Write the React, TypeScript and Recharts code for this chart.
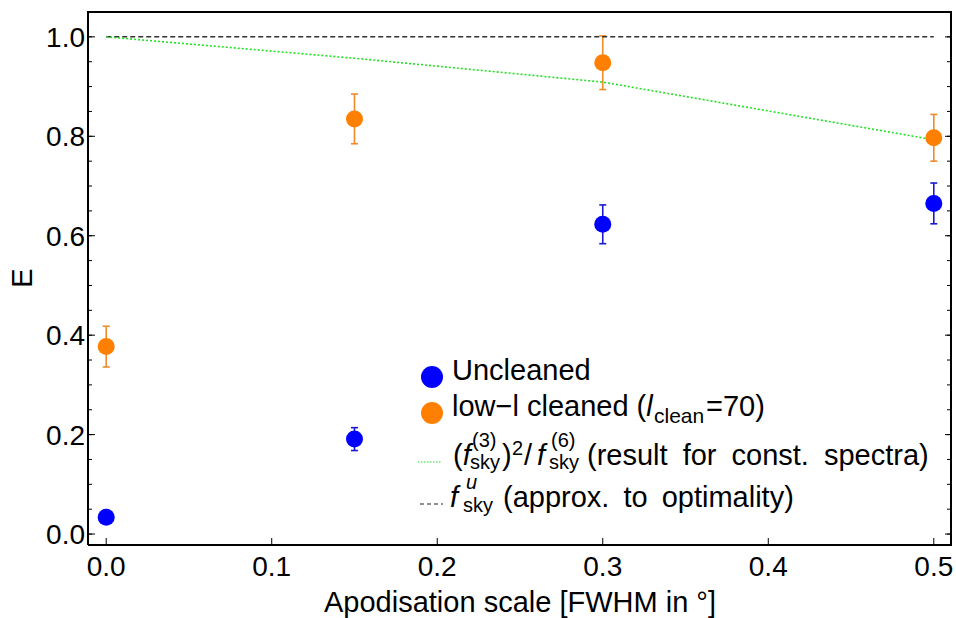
import React from 'react';
import { ComposedChart, ErrorBar, Line, Scatter, XAxis, YAxis } from 'recharts';

// apodisation scale (FWHM in degrees) at which E was measured
const apodisation = [0, 0.15, 0.3, 0.5];

// uncleaned maps
const uncleanedE = [0.034, 0.191, 0.623, 0.665];
const uncleanedErr = [0, 0.023, 0.039, 0.041];

// low-l cleaned maps (l_clean = 70)
const cleanedE = [0.377, 0.835, 0.948, 0.797];
const cleanedErr = [0.041, 0.05, 0.054, 0.047];

// (f3)^2 / f6 prediction for constant spectra
const constSpectraE = [1.0, 0.957, 0.909, 0.793];

// f_sky^u approximation
const optimalityX = [0, 0.5];
const optimalityE = [1.0, 1.0];

const xMajor = [0, 0.1, 0.2, 0.3, 0.4, 0.5];
const xMinor = [0, 0.02, 0.04, 0.06, 0.08, 0.1, 0.12, 0.14, 0.16, 0.18, 0.2, 0.22, 0.24, 0.26, 0.28, 0.3, 0.32, 0.34, 0.36, 0.38, 0.4, 0.42, 0.44, 0.46, 0.48, 0.5];
const yMajor = [0, 0.2, 0.4, 0.6, 0.8, 1.0];
const yMinor = [0, 0.05, 0.1, 0.15, 0.2, 0.25, 0.3, 0.35, 0.4, 0.45, 0.5, 0.55, 0.6, 0.65, 0.7, 0.75, 0.8, 0.85, 0.9, 0.95, 1.0, 1.05];

const X_DOMAIN: [number, number] = [-0.011, 0.511];
const Y_DOMAIN: [number, number] = [-0.022, 1.052];

const FONT = '"Liberation Sans", Arial, sans-serif';
const BLUE = '#0000ff';
const ORANGE = '#ff8000';
const GREEN = '#22e022';

const uncleaned = apodisation.map((x, i) => ({ x, e: uncleanedE[i], err: uncleanedErr[i] }));
const cleaned = apodisation.map((x, i) => ({ x, e: cleanedE[i], err: cleanedErr[i] }));
const constSpectra = apodisation.map((x, i) => ({ x, e: constSpectraE[i] }));
const optimality = optimalityX.map((x, i) => ({ x, e: optimalityE[i] }));

const XTick = (p: any) => (
  <g>
    <line x1={p.x} y1={p.y} x2={p.x} y2={p.y - 7} stroke="#000" strokeWidth={1} />
    <text x={p.x} y={p.y + 31} textAnchor="middle" fontSize={28} fontFamily={FONT} fill="#000">
      {p.payload.value.toFixed(1)}
    </text>
  </g>
);

const YTick = (p: any) => (
  <g>
    <line x1={p.x} y1={p.y} x2={p.x + 7} y2={p.y} stroke="#000" strokeWidth={1} />
    <text x={p.x - 3} y={p.y + 10} textAnchor="end" fontSize={28} fontFamily={FONT} fill="#000">
      {p.payload.value.toFixed(1)}
    </text>
  </g>
);

// frame sides only carry tick marks, no labels
const NoLabel = () => <g />;

const dot = (color: string) => (p: any) => <circle cx={p.cx} cy={p.cy} r={8.5} fill={color} />;

const T = ({ x, y, size = 29, ws = 0, children }: { x: number; y: number; size?: number; ws?: number; children: React.ReactNode }) => (
  <text x={x} y={y} fontSize={size} wordSpacing={ws} fill="#000" fontFamily={FONT}>
    {children}
  </text>
);

const It = ({ children }: { children: React.ReactNode }) => <tspan fontStyle="italic">{children}</tspan>;

function ChartLegend() {
  return (
    <svg width={956} height={618} style={{ position: 'absolute', left: 0, top: 0 }}>
      <circle cx={432} cy={377} r={11} fill={BLUE} />
      <circle cx={432} cy={413} r={11} fill={ORANGE} />
      <line x1={418} y1={462} x2={442} y2={462} stroke={GREEN} strokeWidth={1.2} strokeDasharray="1.5 1.5" />
      <line x1={420} y1={504} x2={443} y2={504} stroke="#222" strokeWidth={1.2} strokeDasharray="4 3" />

      <T x={452} y={380}>Uncleaned</T>

      <T x={452} y={416}>
        low−l cleaned (<It>l</It>
      </T>
      <T x={654} y={423} size={21}>clean</T>
      <T x={706} y={416}>=70)</T>

      <T x={453} y={465}>
        (<It>f</It>
      </T>
      <T x={472} y={447} size={20}>(3)</T>
      <T x={470} y={469} size={20}>sky</T>
      <T x={502} y={465}>)</T>
      <T x={512} y={455} size={20}>2</T>
      <T x={524} y={465}>/</T>
      <T x={537} y={465}>
        <It>f</It>
      </T>
      <T x={551} y={447} size={20}>(6)</T>
      <T x={549} y={469} size={20}>sky</T>
      <T x={587} y={465} ws={7}>(result for const. spectra)</T>

      <T x={450} y={507}>
        <It>f</It>
      </T>
      <T x={466} y={489} size={20}>
        <It>u</It>
      </T>
      <T x={463} y={512} size={20}>sky</T>
      <T x={503} y={507} ws={6}>(approx. to optimality)</T>
    </svg>
  );
}

export default function App() {
  return (
    <div style={{ position: 'absolute', left: 0, top: 0, width: 956, height: 618, background: '#fff' }}>
      <ComposedChart width={956} height={618} margin={{ top: 11, right: 4, bottom: 0, left: 0 }}>
        <XAxis
          xAxisId="x"
          dataKey="x"
          type="number"
          domain={X_DOMAIN}
          allowDataOverflow
          ticks={xMajor}
          interval={0}
          height={73}
          tickSize={0}
          tickMargin={0}
          tickLine={false}
          axisLine={{ stroke: '#000', strokeWidth: 2 }}
          tick={XTick}
          label={{ value: 'Apodisation scale [FWHM in °]', position: 'insideBottom', offset: 6, fontSize: 29, fontFamily: FONT, fill: '#000' }}
        />
        <XAxis xAxisId="xb" type="number" domain={X_DOMAIN} allowDataOverflow ticks={xMinor} interval={0} mirror height={1} tickSize={4} tick={NoLabel} axisLine={false} tickLine={{ stroke: '#000' }} />
        <XAxis xAxisId="xt" orientation="top" type="number" domain={X_DOMAIN} allowDataOverflow ticks={xMinor} interval={0} mirror height={1} tickSize={4} tick={NoLabel} axisLine={{ stroke: '#000', strokeWidth: 2 }} tickLine={{ stroke: '#000' }} />
        <XAxis xAxisId="xT" orientation="top" type="number" domain={X_DOMAIN} allowDataOverflow ticks={xMajor} interval={0} mirror height={1} tickSize={7} tick={NoLabel} axisLine={false} tickLine={{ stroke: '#000' }} />
        <YAxis
          yAxisId="y"
          type="number"
          domain={Y_DOMAIN}
          allowDataOverflow
          ticks={yMajor}
          interval={0}
          width={88}
          tickSize={0}
          tickMargin={0}
          tickLine={false}
          axisLine={{ stroke: '#000', strokeWidth: 2 }}
          tick={YTick}
          label={{ value: 'E', angle: -90, position: 'insideLeft', offset: 22, fontSize: 29, fontFamily: FONT, fill: '#000', textAnchor: 'middle' }}
        />
        <YAxis yAxisId="yl" type="number" domain={Y_DOMAIN} allowDataOverflow ticks={yMinor} interval={0} mirror width={1} tickSize={4} tick={NoLabel} axisLine={false} tickLine={{ stroke: '#000' }} />
        <YAxis yAxisId="yr" orientation="right" type="number" domain={Y_DOMAIN} allowDataOverflow ticks={yMinor} interval={0} mirror width={1} tickSize={4} tick={NoLabel} axisLine={{ stroke: '#000', strokeWidth: 2 }} tickLine={{ stroke: '#000' }} />
        <YAxis yAxisId="yR" orientation="right" type="number" domain={Y_DOMAIN} allowDataOverflow ticks={yMajor} interval={0} mirror width={1} tickSize={7} tick={NoLabel} axisLine={false} tickLine={{ stroke: '#000' }} />

        <Scatter xAxisId="x" yAxisId="y" data={uncleaned} dataKey="e" shape={dot(BLUE)} isAnimationActive={false}>
          <ErrorBar dataKey="err" direction="y" width={3.5} stroke="#1a1ad0" strokeWidth={1.6} isAnimationActive={false} />
        </Scatter>
        <Scatter xAxisId="x" yAxisId="y" data={cleaned} dataKey="e" shape={dot(ORANGE)} isAnimationActive={false}>
          <ErrorBar dataKey="err" direction="y" width={3.5} stroke="#f08a2a" strokeWidth={1.6} isAnimationActive={false} />
        </Scatter>
        <Line xAxisId="x" yAxisId="y" data={optimality} dataKey="e" type="linear" stroke="#333" strokeWidth={1.5} strokeDasharray="5 3" dot={false} activeDot={false} isAnimationActive={false} />
        <Line xAxisId="x" yAxisId="y" data={constSpectra} dataKey="e" type="linear" stroke={GREEN} strokeWidth={1.6} strokeDasharray="2 2" dot={false} activeDot={false} isAnimationActive={false} />
      </ComposedChart>
      <ChartLegend />
    </div>
  );
}
